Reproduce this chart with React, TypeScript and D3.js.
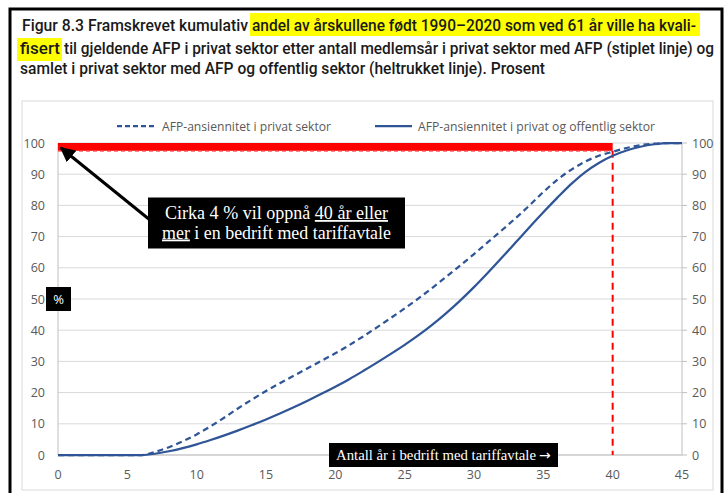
import React from "react";
import * as d3 from "d3";

// data
const years = [0, 1, 2, 3, 4, 5, 6, 7, 8, 9, 10, 11, 12, 13, 14, 15, 16, 17, 18, 19, 20, 21, 22, 23, 24, 25, 26, 27, 28, 29, 30, 31, 32, 33, 34, 35, 36, 37, 38, 39, 40, 41, 42, 43, 44, 45];
const privat = [0, 0, 0, 0, 0, 0, 0, 1, 2.5, 4.4, 6.6, 9.2, 12, 15, 17.8, 20.5, 23, 25.4, 27.8, 30.2, 32.6, 35.2, 38, 40.9, 43.9, 47, 50.2, 53.6, 57.1, 60.7, 64.4, 68.2, 72, 75.9, 80, 84.3, 88.2, 91.4, 94, 95.9, 97.2, 98.4, 99.3, 99.8, 100, 100];
const samlet = [0, 0, 0, 0, 0, 0, 0, 0.4, 1.2, 2.2, 3.4, 4.8, 6.3, 7.9, 9.6, 11.4, 13.3, 15.3, 17.4, 19.6, 21.9, 24.3, 26.9, 29.6, 32.4, 35.3, 38.4, 41.8, 45.5, 49.5, 53.8, 58.4, 63.2, 68.1, 73, 77.8, 82.4, 86.8, 90.6, 93.6, 95.9, 97.6, 98.8, 99.6, 100, 100];
const xTicks = [0, 5, 10, 15, 20, 25, 30, 35, 40, 45];
const yTicks = [0, 10, 20, 30, 40, 50, 60, 70, 80, 90, 100];
const legendLabels = ["AFP-ansiennitet i privat sektor", "AFP-ansiennitet i privat og offentlig sektor"];
const markYear = 40;
const markShare = 97.5;

const blue = "#2F5597";
const grey = "#595959";

export default function App() {
  const x = d3.scaleLinear().domain([0, 45]).range([58, 682]);
  const y = d3.scaleLinear().domain([0, 100]).range([455, 143]);

  const line = d3
    .line<number>()
    .x((d, i) => x(years[i]))
    .y((d) => y(d))
    .curve(d3.curveMonotoneX);

  const titleFont = "Roboto, sans-serif";
  const serif = "'Liberation Serif', 'DejaVu Serif', serif";

  return (
    <svg width={728} height={493} style={{ position: "absolute", left: 0, top: 0, background: "#fff" }}>
      {/* outer frame */}
      <rect x={10} y={9} width={712} height={500} fill="none" stroke="#000" strokeWidth={3} />

      {/* title with highlights */}
      <rect x={250} y={13} width={450} height={23} fill="#FFFF00" />
      <rect x={17} y={38} width={45} height={23} fill="#FFFF00" />
      <g fontFamily={titleFont} fontSize={16} fontWeight={500} fill="#1a1a1a">
        <text x={22} y={31} textLength={226} lengthAdjust="spacingAndGlyphs">Figur 8.3 Framskrevet kumulativ</text>
        <text x={252} y={31} textLength={444} lengthAdjust="spacingAndGlyphs">andel av årskullene født 1990–2020 som ved 61 år ville ha kvali-</text>
        <text x={20} y={54} textLength={40} lengthAdjust="spacingAndGlyphs">fisert</text>
        <text x={64} y={54} textLength={650} lengthAdjust="spacingAndGlyphs">til gjeldende AFP i privat sektor etter antall medlemsår i privat sektor med AFP (stiplet linje) og</text>
        <text x={20} y={74} textLength={525} lengthAdjust="spacingAndGlyphs">samlet i privat sektor med AFP og offentlig sektor (heltrukket linje). Prosent</text>
      </g>

      {/* chart area frame */}
      <rect x={22} y={101} width={691} height={389} fill="#fff" stroke="#d9d9d9" strokeWidth={1} />

      {/* legend */}
      <line x1={117} x2={157} y1={126} y2={126} stroke={blue} strokeWidth={2.25} strokeDasharray="5,3" />
      <text x={162} y={130.5} fontFamily="'Open Sans', sans-serif" fontSize={12} fill={grey} textLength={169} lengthAdjust="spacingAndGlyphs">{legendLabels[0]}</text>
      <line x1={375} x2={412} y1={126} y2={126} stroke={blue} strokeWidth={2.25} />
      <text x={418} y={130.5} fontFamily="'Open Sans', sans-serif" fontSize={12} fill={grey} textLength={237} lengthAdjust="spacingAndGlyphs">{legendLabels[1]}</text>

      {/* grid */}
      {yTicks.map((t) => (
        <line key={t} x1={x(0)} x2={x(45)} y1={y(t)} y2={y(t)} stroke="#d9d9d9" strokeWidth={1} />
      ))}
      <line x1={x(0)} x2={x(0)} y1={y(100)} y2={y(0)} stroke="#bfbfbf" />
      <line x1={x(45)} x2={x(45)} y1={y(100)} y2={y(0)} stroke="#bfbfbf" />
      <line x1={x(0)} x2={x(45)} y1={y(0)} y2={y(0)} stroke="#bfbfbf" />
      {yTicks.map((t) => (
        <line key={"rt" + t} x1={x(45)} x2={x(45) + 5} y1={y(t)} y2={y(t)} stroke="#bfbfbf" />
      ))}

      {/* tick labels */}
      <g fontFamily="'Open Sans', sans-serif" fontSize={12.5} fill={grey}>
        {yTicks.map((t) => (
          <text key={"l" + t} x={45} y={y(t) + 4.5} textAnchor="end">{t}</text>
        ))}
        {yTicks.map((t) => (
          <text key={"r" + t} x={692} y={y(t) + 4.5}>{t}</text>
        ))}
        {xTicks.map((t) => (
          <text key={"x" + t} x={x(t)} y={479} textAnchor="middle">{t}</text>
        ))}
      </g>

      {/* red marker for 40 years */}
      <rect x={x(0)} y={y(100)} width={x(markYear) - x(0)} height={y(markShare) - y(100)} fill="#ff0000" />
      <line x1={x(0)} x2={x(markYear)} y1={y(markShare) + 0.5} y2={y(markShare) + 0.5} stroke="#ff6666" strokeWidth={1} strokeDasharray="4,3" />
      <line x1={x(markYear)} x2={x(markYear)} y1={y(markShare)} y2={y(0)} stroke="#ff0000" strokeWidth={2} strokeDasharray="7,5" />

      {/* series */}
      <path d={line(privat) || ""} fill="none" stroke={blue} strokeWidth={2.25} strokeDasharray="6,4" />
      <path d={line(samlet) || ""} fill="none" stroke={blue} strokeWidth={2.25} />

      {/* arrow annotation */}
      <defs>
        <marker id="ah" viewBox="0 0 10 10" refX={9} refY={5} markerWidth={5} markerHeight={5} orient="auto">
          <path d="M0,0 L10,5 L0,10 z" fill="#000" />
        </marker>
      </defs>
      <line x1={150} y1={220} x2={x(0) + 3} y2={y(100) + 5} stroke="#000" strokeWidth={3} markerEnd="url(#ah)" />
      <rect x={148} y={197.5} width={257} height={51} fill="#000" />
      <text x={165} y={219} fontFamily={serif} fontSize={18} fill="#fff" textLength={223} lengthAdjust="spacingAndGlyphs">
        Cirka 4 % vil oppnå <tspan style={{ textDecoration: "underline" }}>40 år eller</tspan>
      </text>
      <text x={162} y={238.5} fontFamily={serif} fontSize={18} fill="#fff" textLength={229} lengthAdjust="spacingAndGlyphs">
        <tspan style={{ textDecoration: "underline" }}>mer</tspan> i en bedrift med tariffavtale
      </text>

      {/* % label */}
      <rect x={46} y={287} width={25} height={24} fill="#000" />
      <text x={58.5} y={303.5} fontFamily="'Open Sans', sans-serif" fontSize={13} fill="#fff" textAnchor="middle">%</text>

      {/* x-axis label */}
      <rect x={329} y={443} width={229} height={24} fill="#000" />
      <text x={336} y={459.5} fontFamily={serif} fontSize={14} fill="#fff" textLength={200} lengthAdjust="spacingAndGlyphs">Antall år i bedrift med tariffavtale</text>
      <text x={539} y={460} fontFamily="'DejaVu Sans', sans-serif" fontSize={14} fill="#fff">→</text>
    </svg>
  );
}
